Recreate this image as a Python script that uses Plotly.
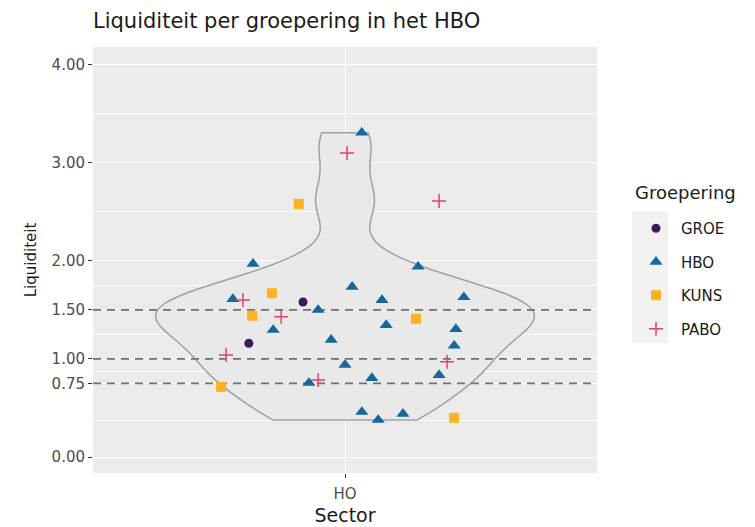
import numpy as np
import plotly.graph_objects as go

# ---- data ----
groups = ["GROE", "HBO", "KUNS", "PABO"]
groe_y = [1.58, 1.16]
groe_dx = [-0.100, -0.229]
hbo_y = [3.306, 1.97, 1.94, 1.735, 1.61, 1.60, 1.63, 1.50, 1.295, 1.345,
         1.305, 1.195, 1.135, 0.94, 0.805, 0.835, 0.755, 0.46, 0.44, 0.378]
hbo_dx = [0.040, -0.219, 0.174, 0.017, -0.267, 0.088, 0.283, -0.064, -0.171, 0.098,
          0.264, -0.033, 0.260, 0.0, 0.064, 0.224, -0.086, 0.040, 0.138, 0.079]
kuns_y = [2.58, 1.67, 1.44, 1.41, 0.715, 0.40]
kuns_dx = [-0.110, -0.174, -0.221, 0.169, -0.295, 0.260]
pabo_y = [3.10, 2.61, 1.60, 1.43, 1.04, 0.97, 0.785]
pabo_dx = [0.005, 0.224, -0.243, -0.152, -0.283, 0.243, -0.064]

sector = "HO"
hlines = [0.75, 1.0, 1.5]
ytick_vals = [0, 0.75, 1, 1.5, 2, 3, 4]
ytick_text = ["0.00", "0.75", "1.00", "1.50", "2.00", "3.00", "4.00"]
yminor_vals = [0.375, 0.875, 1.25, 1.75, 2.5, 3.5]

series = {
    "GROE": (groe_y, groe_dx),
    "HBO": (hbo_y, hbo_dx),
    "KUNS": (kuns_y, kuns_dx),
    "PABO": (pabo_y, pabo_dx),
}
styles = {
    "GROE": dict(symbol="circle", size=9, color="#3B1C5A"),
    "HBO": dict(symbol="triangle-up", size=11.5, color="#15679E"),
    "KUNS": dict(symbol="square", size=10, color="#FBB41F"),
    "PABO": dict(symbol="cross-thin", size=10, color="#DF3F7C"),
}

all_y = np.array(groe_y + hbo_y + kuns_y + pabo_y)
# R's bw.nrd0
sd = np.std(all_y, ddof=1)
iqr = np.percentile(all_y, 75) - np.percentile(all_y, 25)
bw = 0.9 * min(sd, iqr / 1.34) * len(all_y) ** (-0.2)

FONT = "DejaVu Sans, Verdana, sans-serif"

fig = go.Figure()
fig.add_trace(go.Violin(
    y=all_y, x0=1, width=0.9, spanmode="hard", bandwidth=bw,
    scalemode="width", points=False, fillcolor="#E9E9E9",
    line=dict(color="#A0A0A0", width=1.5), showlegend=False, hoverinfo="skip",
))
for v in hlines:
    fig.add_trace(go.Scatter(
        x=[0.4, 1.6], y=[v, v], mode="lines",
        line=dict(color="#707070", width=1.7, dash="8px,6px"),
        showlegend=False, hoverinfo="skip",
    ))
for g in groups:
    ys, dxs = series[g]
    st = styles[g]
    marker = dict(symbol=st["symbol"], size=st["size"], color=st["color"])
    if st["symbol"] == "cross-thin":
        marker["line"] = dict(color=st["color"], width=1.5)
    else:
        marker["line"] = dict(width=0)
    fig.add_trace(go.Scatter(
        x=[1 + d for d in dxs], y=ys, mode="markers", name=g,
        marker=marker, legendgroup=g,
    ))

OFF = 8  # page body margin
L, R, T, B = 85, 158, 39, 54
W, H = 747, 519
pw, ph = W - L - R, H - T - B

def px2x(px):
    return (px - OFF - L) / pw

def py2y(py):
    return 1 - (py - OFF - T) / ph

fig.add_shape(type="rect", xref="paper", yref="paper",
              x0=px2x(632), x1=px2x(668), y0=py2y(343), y1=py2y(211),
              fillcolor="#F2F2F2", line=dict(width=0), layer="below")
fig.add_annotation(text="Groepering", xref="paper", yref="paper",
                   x=px2x(633), y=py2y(192), xanchor="left", yanchor="middle",
                   showarrow=False, font=dict(family=FONT, size=18, color="#1A1A1A"))

fig.update_layout(
    width=W, height=H,
    margin=dict(l=L, r=R, t=T, b=B, autoexpand=False),
    paper_bgcolor="white", plot_bgcolor="#EBEBEB",
    font=dict(family=FONT, color="#1A1A1A"),
    title=dict(text="Liquiditeit per groepering in het HBO", x=(93 - OFF) / W, xanchor="left",
               xref="container", y=1 - (21 - OFF) / H, yanchor="middle", yref="container",
               font=dict(family=FONT, size=21, color="#1A1A1A")),
    showlegend=True,
    legend=dict(x=px2x(631), y=py2y(212), xanchor="left", yanchor="top",
                bgcolor="rgba(0,0,0,0)", tracegroupgap=11, itemwidth=40,
                font=dict(family=FONT, size=15, color="#1A1A1A")),
    xaxis=dict(range=[0.4, 1.6], tickmode="array", tickvals=[1], ticktext=[sector],
               showgrid=True, gridcolor="white", gridwidth=1.2, zeroline=False,
               ticks="outside", ticklen=4, tickcolor="#333333", tickwidth=1,
               ticklabelstandoff=3, automargin=False,
               tickfont=dict(family=FONT, size=15, color="#4D4D4D"),
               title=dict(text="Sector", font=dict(family=FONT, size=19, color="#1A1A1A"),
                          standoff=6)),
    yaxis=dict(range=[-0.163, 4.18], tickmode="array", tickvals=ytick_vals, ticktext=ytick_text,
               showgrid=True, gridcolor="white", gridwidth=1.2, zeroline=False,
               ticks="outside", ticklen=4, tickcolor="#333333", tickwidth=1,
               automargin=False,
               tickfont=dict(family=FONT, size=15, color="#4D4D4D"),
               minor=dict(tickmode="array", tickvals=yminor_vals, showgrid=True,
                          gridcolor="white", gridwidth=0.6, ticks=""),
               title=dict(text="Liquiditeit", font=dict(family=FONT, size=15, color="#1A1A1A"),
                          standoff=11)),
)

fig.write_html("out.html")
